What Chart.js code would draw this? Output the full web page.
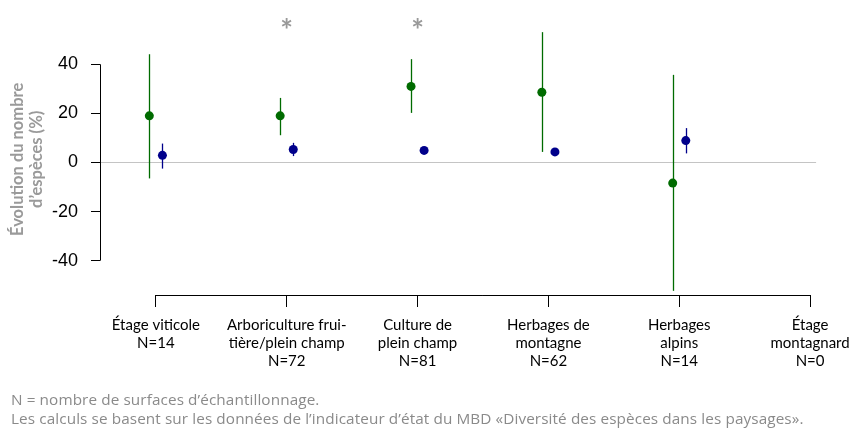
<!DOCTYPE html>
<html>
<head>
<meta charset="utf-8">
<script src="https://cdn.jsdelivr.net/npm/chart.js@4/dist/chart.umd.min.js"></script>
<style>
  html, body { margin: 0; padding: 0; background: #fff; }
  #wrap { position: relative; width: 859px; height: 431px; }
  #note {
    position: absolute; left: 11px; top: 390px;
    font-family: "Open Sans", sans-serif; font-size: 15.3px; line-height: 19px;
    letter-spacing: 0.1px; color: #8a8a8a; white-space: nowrap;
  }
</style>
</head>
<body>
<div id="wrap">
  <canvas id="chart" width="859" height="431"></canvas>
  <div id="note">
    N = nombre de surfaces d’échantillonnage.<br>
    Les calculs se basent sur les données de l’indicateur d’état du MBD «Diversité des espèces dans les paysages».
  </div>
</div>
<script>
// catégories (étages / milieux) avec le nombre de surfaces
const categories = [
  ["Étage viticole", "N=14"],
  ["Arboriculture frui-", "tière/plein champ", "N=72"],
  ["Culture de", "plein champ", "N=81"],
  ["Herbages de", "montagne", "N=62"],
  ["Herbages", "alpins", "N=14"],
  ["Étage", "montagnard", "N=0"]
];

// série verte : valeur + intervalle
const greenMean = [19.0, 19.0, 31.0, 28.6, -8.4, null];
const greenLow  = [-6.5, 11.1, 20.2, 4.3, -52.3, null];
const greenHigh = [44.1, 26.3, 42.1, 53.1, 35.7, null];

// série bleue : valeur + intervalle
const blueMean = [2.9, 5.3, 4.9, 4.3, 8.9, null];
const blueLow  = [-2.5, 2.6, 4.5, 4.0, 3.7, null];
const blueHigh = [7.7, 8.0, 5.3, 4.6, 14.0, null];

// différence significative (astérisque)
const significant = [false, true, true, false, false, false];
const starLevel = 49.3;

// graduations de l'axe y
const yTicks = [-40, -20, 0, 20, 40];

const GREEN = '#006b00';
const BLUE = '#00008b';

function toPoints(values, shift) {
  const pts = [];
  values.forEach((v, i) => {
    if (v !== null) pts.push({ x: i + shift, y: v });
  });
  return pts;
}

// barres d'erreur, axes partiels et astérisques
const extras = {
  id: 'extras',
  beforeDatasetsDraw(chart) {
    const { ctx, scales: { x, y }, chartArea } = chart;
    ctx.save();
    // axe y de -40 à 40
    ctx.strokeStyle = '#000';
    ctx.lineWidth = 1;
    ctx.beginPath();
    ctx.moveTo(chartArea.left + 0.5, y.getPixelForValue(yTicks[yTicks.length - 1]));
    ctx.lineTo(chartArea.left + 0.5, y.getPixelForValue(yTicks[0]));
    ctx.stroke();
    // axe x entre la première et la dernière catégorie
    ctx.beginPath();
    ctx.moveTo(x.getPixelForValue(0), chartArea.bottom + 0.5);
    ctx.lineTo(x.getPixelForValue(categories.length - 1), chartArea.bottom + 0.5);
    ctx.stroke();

    // barres d'erreur
    const drawBars = (low, high, shift, color) => {
      ctx.strokeStyle = color;
      ctx.lineWidth = 1.3;
      low.forEach((lo, i) => {
        if (lo === null) return;
        const px = Math.round(x.getPixelForValue(i + shift)) + 0.5;
        ctx.beginPath();
        ctx.moveTo(px, y.getPixelForValue(lo));
        ctx.lineTo(px, y.getPixelForValue(high[i]));
        ctx.stroke();
      });
    };
    drawBars(greenLow, greenHigh, -0.05, GREEN);
    drawBars(blueLow, blueHigh, 0.05, BLUE);

    // astérisques
    ctx.fillStyle = '#999';
    ctx.font = 'bold 30px Lato';
    ctx.textAlign = 'center';
    ctx.textBaseline = 'alphabetic';
    significant.forEach((s, i) => {
      if (s) ctx.fillText('*', x.getPixelForValue(i), y.getPixelForValue(starLevel));
    });
    ctx.restore();
  }
};

new Chart(document.getElementById('chart'), {
  type: 'scatter',
  data: {
    datasets: [
      {
        label: 'vert',
        data: toPoints(greenMean, -0.05),
        backgroundColor: GREEN,
        borderColor: GREEN,
        pointRadius: 4.5,
        pointBorderWidth: 0
      },
      {
        label: 'bleu',
        data: toPoints(blueMean, 0.05),
        backgroundColor: BLUE,
        borderColor: BLUE,
        pointRadius: 4.5,
        pointBorderWidth: 0
      }
    ]
  },
  options: {
    responsive: false,
    animation: false,
    layout: { padding: { top: 21, right: 41, bottom: 0, left: 0 } },
    plugins: { legend: { display: false }, tooltip: { enabled: false } },
    scales: {
      x: {
        type: 'linear',
        min: -0.427,
        max: 5.046,
        afterBuildTicks: (scale) => { scale.ticks = categories.map((c, i) => ({ value: i })); },
        afterFit: (scale) => { scale.height = 136; },
        border: { display: false },
        grid: { drawOnChartArea: false, tickLength: 12, tickColor: '#000' },
        ticks: {
          autoSkip: false,
          maxRotation: 0,
          padding: 9,
          color: '#000',
          font: { family: 'Lato', size: 15, lineHeight: 1.2 },
          callback: (v) => categories[v]
        }
      },
      y: {
        min: -54,
        max: 56.5,
        afterBuildTicks: (scale) => { scale.ticks = yTicks.map(v => ({ value: v })); },
        afterFit: (scale) => { scale.width = 100; },
        border: { display: false },
        grid: {
          tickLength: 9,
          tickColor: '#000',
          color: (c) => (c.tick && c.tick.value === 0 ? '#c4c4c4' : 'rgba(0,0,0,0)')
        },
        ticks: {
          padding: 13,
          color: '#000',
          font: { family: 'Liberation Sans', size: 18 }
        },
        title: {
          display: true,
          text: ['Évolution du nombre', 'd’espèces (%)'],
          color: '#9a9a9a',
          font: { family: 'Lato', size: 16.5, weight: 'bold', lineHeight: 1.15 },
          padding: { top: 8, bottom: 0 }
        }
      }
    }
  },
  plugins: [extras]
});
</script>
</body>
</html>
